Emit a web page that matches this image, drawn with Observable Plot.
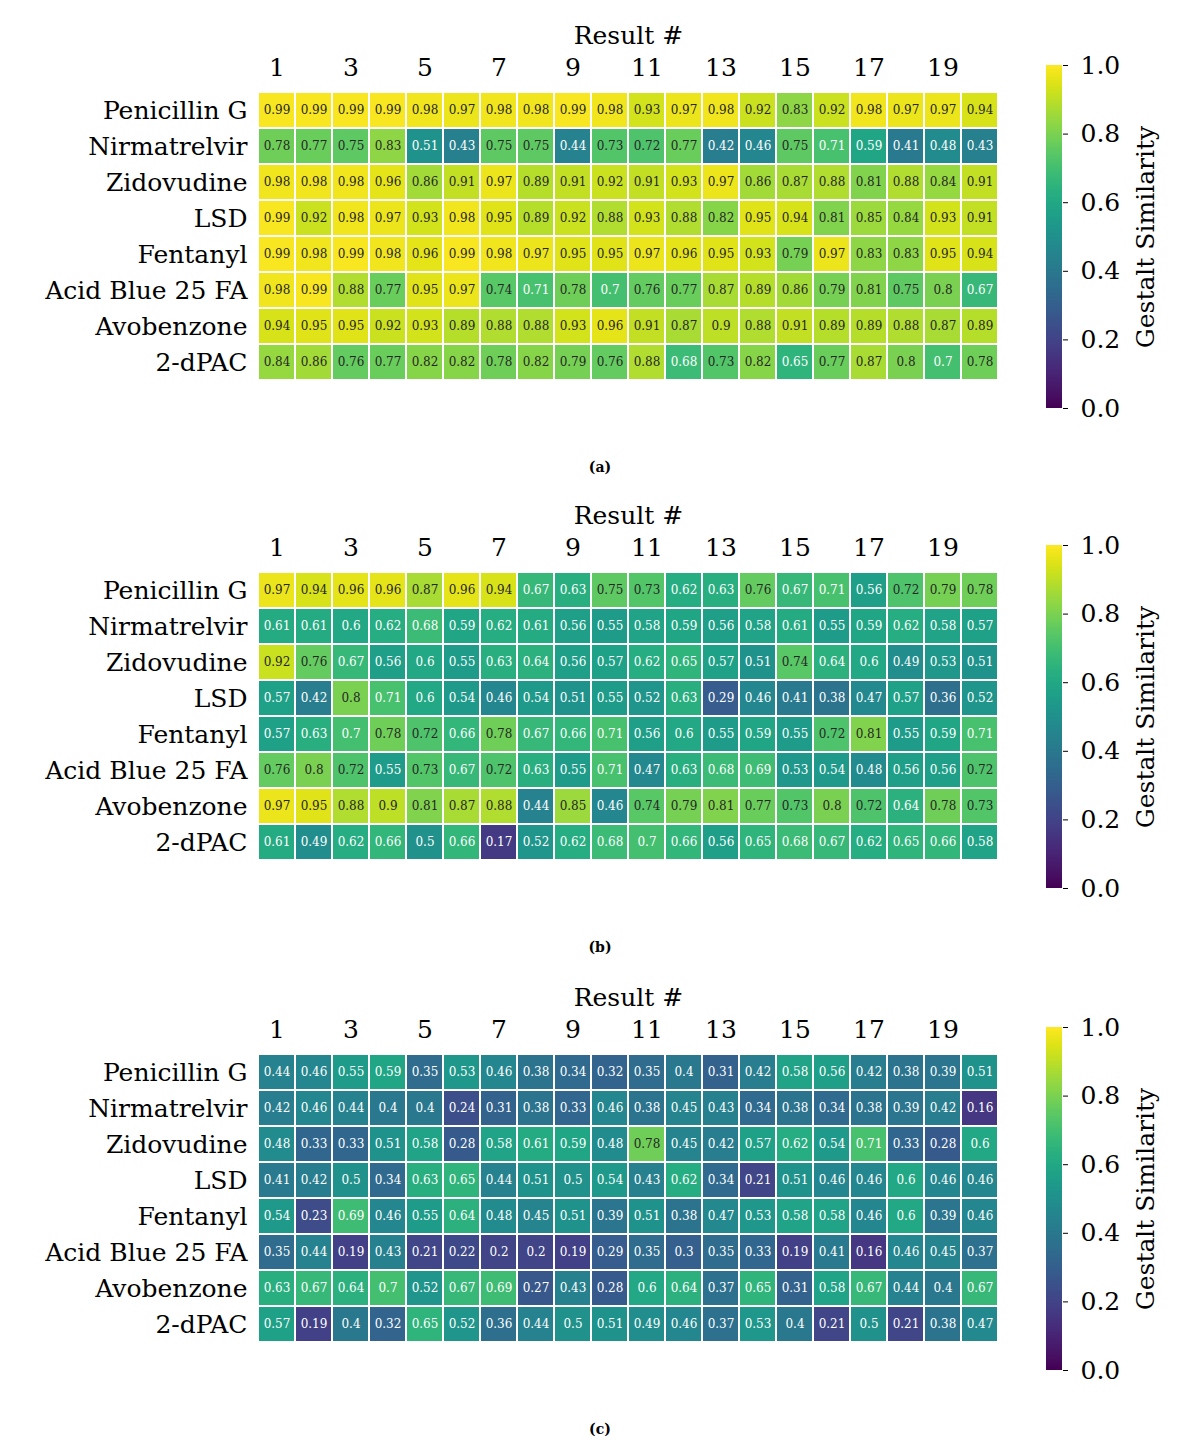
<!DOCTYPE html>
<html><head><meta charset="utf-8">
<script src="https://cdn.jsdelivr.net/npm/d3@7"></script>
<script src="https://cdn.jsdelivr.net/npm/@observablehq/plot@0.6"></script>
<style>
body{margin:0;background:#fff;}
#root{position:relative;width:1200px;height:1446px;font-family:"DejaVu Serif",serif;overflow:hidden;}
.box{position:absolute;}
.caption{position:absolute;left:0;width:1200px;text-align:center;font-weight:bold;font-size:14px;font-family:"DejaVu Serif",serif;}
</style></head><body><div id="root"></div>
<script>
const rows = ["Penicillin G","Nirmatrelvir","Zidovudine","LSD","Fentanyl","Acid Blue 25 FA","Avobenzone","2-dPAC"];
const results = [1,2,3,4,5,6,7,8,9,10,11,12,13,14,15,16,17,18,19,20];
const xTicks = [1,3,5,7,9,11,13,15,17,19];
const cbTicks = [0,0.2,0.4,0.6,0.8,1.0];
const captions = ["(a)","(b)","(c)"];

const simA = [
  [0.99,0.99,0.99,0.99,0.98,0.97,0.98,0.98,0.99,0.98,0.93,0.97,0.98,0.92,0.83,0.92,0.98,0.97,0.97,0.94],
  [0.78,0.77,0.75,0.83,0.51,0.43,0.75,0.75,0.44,0.73,0.72,0.77,0.42,0.46,0.75,0.71,0.59,0.41,0.48,0.43],
  [0.98,0.98,0.98,0.96,0.86,0.91,0.97,0.89,0.91,0.92,0.91,0.93,0.97,0.86,0.87,0.88,0.81,0.88,0.84,0.91],
  [0.99,0.92,0.98,0.97,0.93,0.98,0.95,0.89,0.92,0.88,0.93,0.88,0.82,0.95,0.94,0.81,0.85,0.84,0.93,0.91],
  [0.99,0.98,0.99,0.98,0.96,0.99,0.98,0.97,0.95,0.95,0.97,0.96,0.95,0.93,0.79,0.97,0.83,0.83,0.95,0.94],
  [0.98,0.99,0.88,0.77,0.95,0.97,0.74,0.71,0.78,0.7,0.76,0.77,0.87,0.89,0.86,0.79,0.81,0.75,0.8,0.67],
  [0.94,0.95,0.95,0.92,0.93,0.89,0.88,0.88,0.93,0.96,0.91,0.87,0.9,0.88,0.91,0.89,0.89,0.88,0.87,0.89],
  [0.84,0.86,0.76,0.77,0.82,0.82,0.78,0.82,0.79,0.76,0.88,0.68,0.73,0.82,0.65,0.77,0.87,0.8,0.7,0.78]
];
const simB = [
  [0.97,0.94,0.96,0.96,0.87,0.96,0.94,0.67,0.63,0.75,0.73,0.62,0.63,0.76,0.67,0.71,0.56,0.72,0.79,0.78],
  [0.61,0.61,0.6,0.62,0.68,0.59,0.62,0.61,0.56,0.55,0.58,0.59,0.56,0.58,0.61,0.55,0.59,0.62,0.58,0.57],
  [0.92,0.76,0.67,0.56,0.6,0.55,0.63,0.64,0.56,0.57,0.62,0.65,0.57,0.51,0.74,0.64,0.6,0.49,0.53,0.51],
  [0.57,0.42,0.8,0.71,0.6,0.54,0.46,0.54,0.51,0.55,0.52,0.63,0.29,0.46,0.41,0.38,0.47,0.57,0.36,0.52],
  [0.57,0.63,0.7,0.78,0.72,0.66,0.78,0.67,0.66,0.71,0.56,0.6,0.55,0.59,0.55,0.72,0.81,0.55,0.59,0.71],
  [0.76,0.8,0.72,0.55,0.73,0.67,0.72,0.63,0.55,0.71,0.47,0.63,0.68,0.69,0.53,0.54,0.48,0.56,0.56,0.72],
  [0.97,0.95,0.88,0.9,0.81,0.87,0.88,0.44,0.85,0.46,0.74,0.79,0.81,0.77,0.73,0.8,0.72,0.64,0.78,0.73],
  [0.61,0.49,0.62,0.66,0.5,0.66,0.17,0.52,0.62,0.68,0.7,0.66,0.56,0.65,0.68,0.67,0.62,0.65,0.66,0.58]
];
const simC = [
  [0.44,0.46,0.55,0.59,0.35,0.53,0.46,0.38,0.34,0.32,0.35,0.4,0.31,0.42,0.58,0.56,0.42,0.38,0.39,0.51],
  [0.42,0.46,0.44,0.4,0.4,0.24,0.31,0.38,0.33,0.46,0.38,0.45,0.43,0.34,0.38,0.34,0.38,0.39,0.42,0.16],
  [0.48,0.33,0.33,0.51,0.58,0.28,0.58,0.61,0.59,0.48,0.78,0.45,0.42,0.57,0.62,0.54,0.71,0.33,0.28,0.6],
  [0.41,0.42,0.5,0.34,0.63,0.65,0.44,0.51,0.5,0.54,0.43,0.62,0.34,0.21,0.51,0.46,0.46,0.6,0.46,0.46],
  [0.54,0.23,0.69,0.46,0.55,0.64,0.48,0.45,0.51,0.39,0.51,0.38,0.47,0.53,0.58,0.58,0.46,0.6,0.39,0.46],
  [0.35,0.44,0.19,0.43,0.21,0.22,0.2,0.2,0.19,0.29,0.35,0.3,0.35,0.33,0.19,0.41,0.16,0.46,0.45,0.37],
  [0.63,0.67,0.64,0.7,0.52,0.67,0.69,0.27,0.43,0.28,0.6,0.64,0.37,0.65,0.31,0.58,0.67,0.44,0.4,0.67],
  [0.57,0.19,0.4,0.32,0.65,0.52,0.36,0.44,0.5,0.51,0.49,0.46,0.37,0.53,0.4,0.21,0.5,0.21,0.38,0.47]
];

// seaborn-style annotation colour: dark text on light cells
function isLight(v) {
  const c = d3.rgb(d3.interpolateViridis(v));
  const lin = x => { x /= 255; return x <= 0.03928 ? x / 12.92 : Math.pow((x + 0.055) / 1.055, 2.4); };
  const lum = 0.2126 * lin(c.r) + 0.7152 * lin(c.g) + 0.0722 * lin(c.b);
  return lum > 0.408;
}

const FONT = "DejaVu Serif";
const LABEL = 25;

function heatmap(values) {
  const data = [];
  rows.forEach((r, i) => results.forEach((c, j) => data.push({row: r, result: c, v: values[i][j]})));
  return Plot.plot({
    width: 1010, height: 400,
    marginTop: 88, marginBottom: 17, marginLeft: 258, marginRight: 12,
    style: {fontFamily: FONT, fontSize: LABEL + "px", color: "#000", background: "transparent", overflow: "visible"},
    x: {type: "band", domain: results, padding: 0, axis: null},
    y: {type: "band", domain: rows, padding: 0, axis: null},
    color: {type: "linear", scheme: "viridis", domain: [0, 1]},
    marks: [
      Plot.cell(data, {x: "result", y: "row", fill: "v", inset: 1}),
      Plot.text(data, {filter: d => isLight(d.v), x: "result", y: "row", text: d => String(d.v), fill: "#262626", fontSize: 12}),
      Plot.text(data, {filter: d => !isLight(d.v), x: "result", y: "row", text: d => String(d.v), fill: "white", fontSize: 12}),
      Plot.axisX({anchor: "top", ticks: xTicks, tickSize: 0, tickPadding: 13, label: null, fontSize: LABEL}),
      Plot.axisY({anchor: "left", tickSize: 0, tickPadding: 11, label: null, fontSize: LABEL}),
      Plot.text(["Result #"], {frameAnchor: "top", lineAnchor: "middle", textAnchor: "middle", dy: -53, fontSize: LABEL})
    ]
  });
}

function colorbar() {
  const step = 0.005;
  const ramp = d3.range(0, 1, step);
  return Plot.plot({
    width: 200, height: 460,
    marginTop: 65, marginBottom: 52, marginLeft: 46, marginRight: 138,
    style: {fontFamily: FONT, fontSize: LABEL + "px", color: "#000", background: "transparent", overflow: "visible"},
    x: {domain: [0, 1], axis: null},
    y: {domain: [0, 1], axis: null},
    color: {type: "linear", scheme: "viridis", domain: [0, 1]},
    marks: [
      Plot.rect(ramp, {x1: 0, x2: 1, y1: d => d, y2: d => Math.min(1, d + step * 1.5), fill: d => d + step / 2}),
      Plot.axisY({anchor: "right", ticks: cbTicks, tickFormat: ".1f", tickSize: 5, tickPadding: 13, label: null, fontSize: LABEL}),
      Plot.text(["Gestalt Similarity"], {frameAnchor: "right", textAnchor: "middle", lineAnchor: "middle", rotate: -90, dx: 83, fontSize: LABEL})
    ]
  });
}

const root = document.getElementById("root");
const panels = [simA, simB, simC];
const offsets = [0, 480, 962];
panels.forEach((vals, k) => {
  const top = offsets[k];
  const h = document.createElement("div");
  h.className = "box"; h.style.left = "0px"; h.style.top = top + "px";
  h.appendChild(heatmap(vals));
  root.appendChild(h);
  const cb = document.createElement("div");
  cb.className = "box"; cb.style.left = "1000px"; cb.style.top = top + "px";
  cb.appendChild(colorbar());
  root.appendChild(cb);
  const cap = document.createElement("div");
  cap.className = "caption"; cap.style.top = (top + 459) + "px";
  cap.textContent = captions[k];
  root.appendChild(cap);
});
</script>
</body></html>
